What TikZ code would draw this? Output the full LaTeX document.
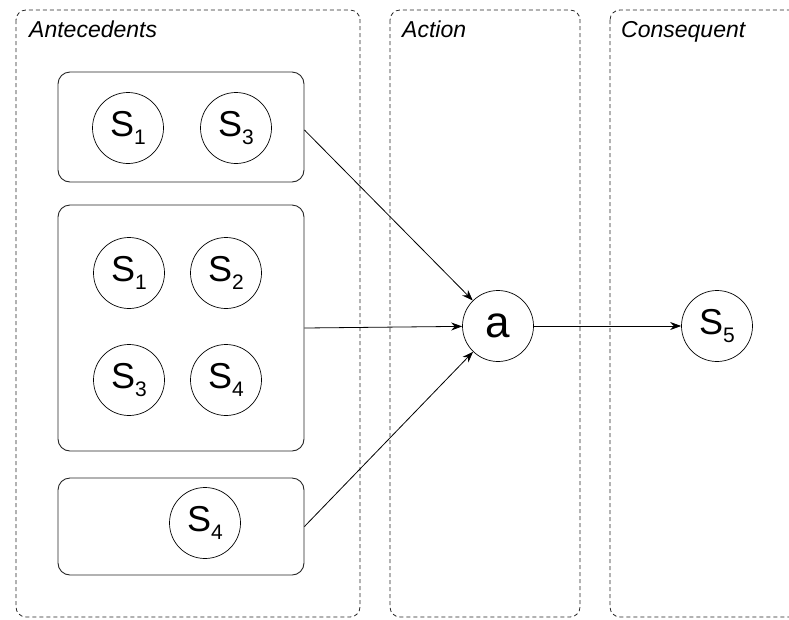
\documentclass[tikz,border=0pt]{standalone}
\usepackage{fontspec}
\setmainfont{Liberation Sans}
\usetikzlibrary{arrows.meta}
\begin{document}
\begin{tikzpicture}[x=1pt,y=-1pt,
  panel/.style={draw=black!85, dash pattern=on 4pt off 3pt, rounded corners=10pt, line width=0.8pt},
  grp/.style={draw=black!85, rounded corners=12pt, line width=0.9pt, inner sep=0pt},
  st/.style={draw, circle, minimum size=71pt, inner sep=0pt, line width=0.7pt, font=\fontsize{36}{36}\selectfont},
  lbl/.style={anchor=base west, font=\itshape\fontsize{23}{23}\selectfont, inner sep=0pt},
  arr/.style={-{Stealth[length=11pt,width=8pt]}, line width=0.8pt}
]
\useasboundingbox (0,0) rectangle (789,619);
\newcommand{\stlab}[1]{S\raisebox{-8pt}{\fontsize{21}{21}\selectfont #1}}
% panels
\draw[panel] (16,10) rectangle (360,617);
\draw[panel] (390,10) rectangle (580,617);
\draw[panel] (610,10) rectangle (840,617);
\node[lbl] (lant) at (29,37) {Antecedents};
\node[lbl] (lact) at (402,37) {Action};
\node[lbl] (lcon) at (621,37) {Consequent};
% groups
\node[grp, minimum width=246pt, minimum height=110pt] (b1) at (181,127) {};
\node[grp, minimum width=246pt, minimum height=246pt] (b2) at (181,328) {};
\node[grp, minimum width=246pt, minimum height=97pt] (b3) at (181,526.5) {};
% states
\node[st] (s11) at (128,128) {\stlab{1}};
\node[st] (s13) at (236,128) {\stlab{3}};
\node[st] (s21) at (129,273) {\stlab{1}};
\node[st] (s22) at (226,273) {\stlab{2}};
\node[st] (s23) at (129,380) {\stlab{3}};
\node[st] (s24) at (226,380) {\stlab{4}};
\node[st] (s34) at (205,523) {\stlab{4}};
\node[st, font=\fontsize{44}{44}\selectfont] (a) at (498,326) {a};
\node[st] (s5) at (717,326) {\stlab{5}};
% arrows
\draw[arr] (b1.east) ++(0,3) -- (a);
\draw[arr] (b2.east) -- (a);
\draw[arr] (b3.east) -- (a);
\draw[arr] (a) -- (s5);
\end{tikzpicture}
\end{document}
